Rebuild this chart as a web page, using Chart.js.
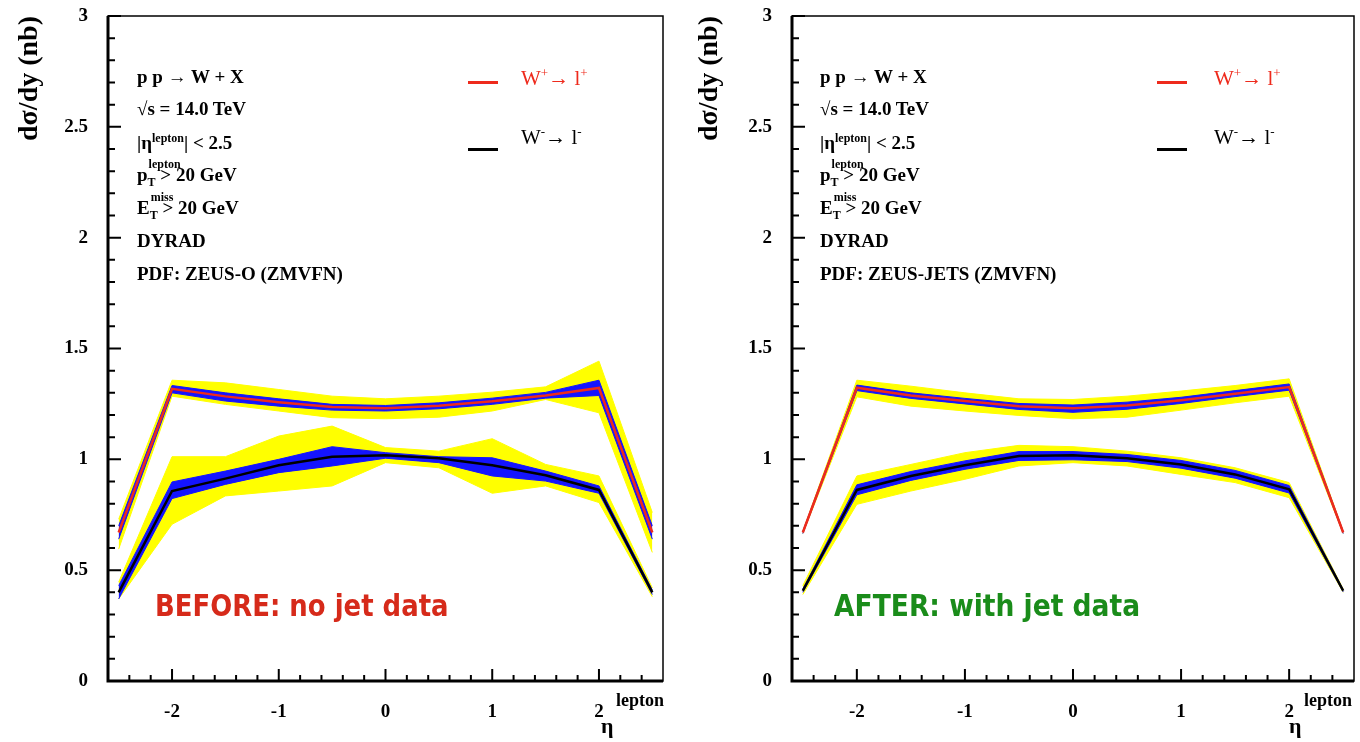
<!DOCTYPE html>
<html>
<head>
<meta charset="utf-8">
<script src="https://cdn.jsdelivr.net/npm/chart.js@4.4.1/dist/chart.umd.min.js"></script>
<style>
  body { margin: 0; background: #fff; width: 1360px; height: 742px; overflow: hidden; position: relative; font-family: "Liberation Serif", "Times New Roman", serif; }
  .panel { position: absolute; top: 0; width: 680px; height: 742px; }
  .panel canvas { position: absolute; left: 0; top: 0; }
  .info { position: absolute; font-size: 19px; font-weight: bold; line-height: 20px; color: #000; white-space: nowrap; }
  .info sup { font-size: 12px; vertical-align: 7px; line-height: 0; }
  .stack { position: relative; display: inline-block; }
  .stack .up { position: absolute; left: 1px; top: -7px; font-size: 12px; line-height: 12px; }
  .stack .dn { font-size: 12px; position: relative; top: 5px; }
  .leg-line { position: absolute; width: 30px; height: 3px; }
  .leg-text { position: absolute; font-size: 21px; line-height: 22px; white-space: nowrap; }
  .leg-text sup { font-size: 13px; vertical-align: 8px; line-height: 0; }
  .tag { position: absolute; font-family: "DejaVu Sans", sans-serif; font-weight: bold; font-size: 30px; line-height: 34px; white-space: nowrap; transform-origin: 0 0; }
  .eta { position: absolute; font-size: 22px; font-weight: bold; line-height: 24px; white-space: nowrap; }
  .eta .lep { position: absolute; left: 15px; top: -23px; font-size: 18px; line-height: 18px; }
</style>
</head>
<body>

<div class="panel" style="left:0">
  <canvas id="before" width="680" height="742"></canvas>
  <div class="info" style="left:137px; top:67px">p p → W + X</div>
  <div class="info" style="left:137px; top:99px">√s = 14.0 TeV</div>
  <div class="info" style="left:137px; top:133px">|η<sup>lepton</sup>| &lt; 2.5</div>
  <div class="info" style="left:137px; top:165px">p<span class="stack"><span class="up">lepton</span><span class="dn">T</span></span> &gt; 20 GeV</div>
  <div class="info" style="left:137px; top:198px">E<span class="stack"><span class="up">miss</span><span class="dn">T</span></span> &gt; 20 GeV</div>
  <div class="info" style="left:137px; top:231px">DYRAD</div>
  <div class="info" style="left:137px; top:264px">PDF: ZEUS-O (ZMVFN)</div>
  <div class="leg-line" style="left:468px; top:81px; background:#ee2a1c"></div>
  <div class="leg-text" style="left:521px; top:67px; color:#ee2a1c">W<sup>+</sup>→ l<sup>+</sup></div>
  <div class="leg-line" style="left:468px; top:148px; background:#000"></div>
  <div class="leg-text" style="left:521px; top:126px; color:#000">W<sup>-</sup>→ l<sup>-</sup></div>
  <div class="tag" id="tagBefore" style="left:155px; top:589px; color:#d62a1a">BEFORE: no jet data</div>
  <div class="eta" style="left:601px; top:714px">η<span class="lep">lepton</span></div>
</div>

<div class="panel" style="left:680px">
  <canvas id="after" width="680" height="742"></canvas>
  <div class="info" style="left:140px; top:67px">p p → W + X</div>
  <div class="info" style="left:140px; top:99px">√s = 14.0 TeV</div>
  <div class="info" style="left:140px; top:133px">|η<sup>lepton</sup>| &lt; 2.5</div>
  <div class="info" style="left:140px; top:165px">p<span class="stack"><span class="up">lepton</span><span class="dn">T</span></span> &gt; 20 GeV</div>
  <div class="info" style="left:140px; top:198px">E<span class="stack"><span class="up">miss</span><span class="dn">T</span></span> &gt; 20 GeV</div>
  <div class="info" style="left:140px; top:231px">DYRAD</div>
  <div class="info" style="left:140px; top:264px">PDF: ZEUS-JETS (ZMVFN)</div>
  <div class="leg-line" style="left:477px; top:81px; background:#ee2a1c"></div>
  <div class="leg-text" style="left:534px; top:67px; color:#ee2a1c">W<sup>+</sup>→ l<sup>+</sup></div>
  <div class="leg-line" style="left:477px; top:148px; background:#000"></div>
  <div class="leg-text" style="left:534px; top:126px; color:#000">W<sup>-</sup>→ l<sup>-</sup></div>
  <div class="tag" id="tagAfter" style="left:154px; top:589px; color:#1a8c1a">AFTER: with jet data</div>
  <div class="eta" style="left:609px; top:714px">η<span class="lep">lepton</span></div>
</div>

<script>
// pseudorapidity points
const eta = [-2.5, -2, -1.5, -1, -0.5, 0, 0.5, 1, 1.5, 2, 2.5];
const xTicks = [-2, -1, 0, 1, 2];
const yTicks = [0, 0.5, 1, 1.5, 2, 2.5, 3];

// BEFORE: ZEUS-O
const wPlusBefore       = [0.67, 1.318, 1.284, 1.258, 1.236, 1.230, 1.242, 1.262, 1.288, 1.322, 0.67];
const wPlusBeforeBlueHi = [0.70, 1.333, 1.300, 1.273, 1.248, 1.243, 1.255, 1.276, 1.302, 1.357, 0.70];
const wPlusBeforeBlueLo = [0.64, 1.300, 1.263, 1.240, 1.222, 1.218, 1.228, 1.248, 1.276, 1.288, 0.64];
const wPlusBeforeYelHi  = [0.73, 1.357, 1.345, 1.315, 1.285, 1.273, 1.285, 1.303, 1.327, 1.443, 0.76];
const wPlusBeforeYelLo  = [0.595, 1.285, 1.248, 1.218, 1.188, 1.183, 1.190, 1.218, 1.270, 1.210, 0.58];

const wMinusBefore       = [0.40, 0.857, 0.913, 0.973, 1.012, 1.018, 1.005, 0.973, 0.928, 0.862, 0.40];
const wMinusBeforeBlueHi = [0.43, 0.898, 0.947, 1.000, 1.057, 1.030, 1.012, 1.007, 0.947, 0.880, 0.41];
const wMinusBeforeBlueLo = [0.37, 0.823, 0.887, 0.940, 0.970, 1.005, 0.985, 0.925, 0.902, 0.847, 0.39];
const wMinusBeforeYelHi  = [0.446, 1.012, 1.012, 1.105, 1.150, 1.053, 1.037, 1.093, 0.977, 0.925, 0.42];
const wMinusBeforeYelLo  = [0.37, 0.707, 0.835, 0.857, 0.880, 0.985, 0.962, 0.847, 0.880, 0.805, 0.38];

// AFTER: ZEUS-JETS
const wPlusAfter       = [0.67, 1.323, 1.288, 1.263, 1.240, 1.230, 1.243, 1.267, 1.296, 1.326, 0.67];
const wPlusAfterBlueHi = [0.675, 1.335, 1.300, 1.275, 1.252, 1.245, 1.258, 1.280, 1.310, 1.340, 0.675];
const wPlusAfterBlueLo = [0.665, 1.310, 1.275, 1.250, 1.225, 1.212, 1.226, 1.252, 1.283, 1.312, 0.665];
const wPlusAfterYelHi  = [0.675, 1.357, 1.330, 1.300, 1.273, 1.270, 1.285, 1.308, 1.333, 1.363, 0.675];
const wPlusAfterYelLo  = [0.665, 1.282, 1.240, 1.218, 1.198, 1.183, 1.190, 1.222, 1.255, 1.285, 0.665];

const wMinusAfter       = [0.407, 0.862, 0.925, 0.973, 1.015, 1.018, 1.005, 0.977, 0.932, 0.865, 0.407];
const wMinusAfterBlueHi = [0.415, 0.885, 0.945, 0.993, 1.035, 1.035, 1.022, 0.995, 0.950, 0.882, 0.412];
const wMinusAfterBlueLo = [0.400, 0.840, 0.905, 0.955, 0.995, 0.998, 0.990, 0.960, 0.915, 0.848, 0.402];
const wMinusAfterYelHi  = [0.430, 0.925, 0.977, 1.030, 1.063, 1.057, 1.037, 1.007, 0.962, 0.895, 0.415];
const wMinusAfterYelLo  = [0.390, 0.797, 0.857, 0.910, 0.970, 0.985, 0.970, 0.932, 0.895, 0.827, 0.400];

const RED = '#ee2a1c', BLUE = '#1414ff', YELLOW = '#ffff00';

function pts(ys) {
    return eta.map((x, i) => ({ x: x, y: ys[i] }));
}

function band(ys, color, fill, order) {
    return { data: pts(ys), borderColor: color, backgroundColor: color, borderWidth: 1,
             pointRadius: 0, fill: fill, order: order, tension: 0 };
}

// box + inward tick marks like the original
const frameTicks = {
    id: 'frameTicks',
    afterDraw(chart) {
        const ctx = chart.ctx, a = chart.chartArea;
        const x = chart.scales.x, y = chart.scales.y;
        ctx.save();
        ctx.strokeStyle = '#000';
        ctx.lineWidth = 1.5;
        ctx.strokeRect(a.left, a.top, a.right - a.left, a.bottom - a.top);
        ctx.lineWidth = 2;
        ctx.beginPath();
        for (let k = 0; k <= 30; k++) {
            const py = y.getPixelForValue(k / 10);
            const len = k % 5 === 0 ? 13 : 7;
            ctx.moveTo(a.left, py);
            ctx.lineTo(a.left + len, py);
        }
        for (let k = -12; k <= 12; k++) {
            const px = x.getPixelForValue(k / 5);
            const len = k % 5 === 0 ? 12 : 6;
            ctx.moveTo(px, a.bottom);
            ctx.lineTo(px, a.bottom - len);
        }
        ctx.stroke();
        ctx.lineWidth = 3;
        ctx.beginPath();
        ctx.moveTo(a.left, a.top);
        ctx.lineTo(a.left, a.bottom);
        ctx.lineTo(a.right, a.bottom);
        ctx.stroke();
        ctx.restore();
    }
};

function makeChart(id, s, yWidth, padRight) {
    const tickFont = { family: 'Liberation Serif', size: 19, weight: 'bold' };
    new Chart(document.getElementById(id).getContext('2d'), {
        type: 'line',
        data: {
            datasets: [
                { data: pts(s.plus), borderColor: RED, borderWidth: 2.5, pointRadius: 0, fill: false, order: 0, tension: 0 },
                { data: pts(s.minus), borderColor: '#000', borderWidth: 2.5, pointRadius: 0, fill: false, order: 0, tension: 0 },
                band(s.plusBlueHi, BLUE, '+1', 1),
                band(s.plusBlueLo, BLUE, false, 1),
                band(s.minusBlueHi, BLUE, '+1', 1),
                band(s.minusBlueLo, BLUE, false, 1),
                band(s.plusYelHi, YELLOW, '+1', 2),
                band(s.plusYelLo, YELLOW, false, 2),
                band(s.minusYelHi, YELLOW, '+1', 2),
                band(s.minusYelLo, YELLOW, false, 2)
            ]
        },
        options: {
            responsive: false,
            animation: false,
            layout: { padding: { top: 16, right: padRight, bottom: 0, left: 0 } },
            plugins: { legend: { display: false }, tooltip: { enabled: false } },
            scales: {
                x: {
                    type: 'linear', min: -2.6, max: 2.6,
                    grid: { display: false, drawTicks: false },
                    border: { display: false },
                    afterBuildTicks: sc => { sc.ticks = xTicks.map(v => ({ value: v })); },
                    afterFit: sc => { sc.height = 61; sc.paddingLeft = 0; sc.paddingRight = 0; },
                    ticks: { color: '#000', font: tickFont, padding: 20, maxRotation: 0, autoSkip: false,
                             callback: v => String(v) }
                },
                y: {
                    min: 0, max: 3,
                    grid: { display: false, drawTicks: false },
                    border: { display: false },
                    afterBuildTicks: sc => { sc.ticks = yTicks.map(v => ({ value: v })); },
                    afterFit: sc => { sc.width = yWidth; sc.paddingTop = 0; sc.paddingBottom = 0; },
                    ticks: { color: '#000', font: tickFont, padding: 20, autoSkip: false,
                             callback: v => String(v) },
                    title: { display: true, text: 'dσ/dy (nb)', align: 'end', color: '#000',
                             font: { family: 'Liberation Serif', size: 28, weight: 'bold' },
                             padding: { top: 13, bottom: 0 } }
                }
            }
        },
        plugins: [frameTicks]
    });
}

makeChart('before', {
    plus: wPlusBefore, minus: wMinusBefore,
    plusBlueHi: wPlusBeforeBlueHi, plusBlueLo: wPlusBeforeBlueLo,
    minusBlueHi: wMinusBeforeBlueHi, minusBlueLo: wMinusBeforeBlueLo,
    plusYelHi: wPlusBeforeYelHi, plusYelLo: wPlusBeforeYelLo,
    minusYelHi: wMinusBeforeYelHi, minusYelLo: wMinusBeforeYelLo
}, 108, 17);

makeChart('after', {
    plus: wPlusAfter, minus: wMinusAfter,
    plusBlueHi: wPlusAfterBlueHi, plusBlueLo: wPlusAfterBlueLo,
    minusBlueHi: wMinusAfterBlueHi, minusBlueLo: wMinusAfterBlueLo,
    plusYelHi: wPlusAfterYelHi, plusYelLo: wPlusAfterYelLo,
    minusYelHi: wMinusAfterYelHi, minusYelLo: wMinusAfterYelLo
}, 112, 6);

// squeeze the comic-style tags to the width they have in the picture
[['tagBefore', 294], ['tagAfter', 306]].forEach(([id, w]) => {
    const el = document.getElementById(id);
    el.style.transform = 'scaleX(' + (w / el.offsetWidth) + ')';
});
</script>
</body>
</html>
